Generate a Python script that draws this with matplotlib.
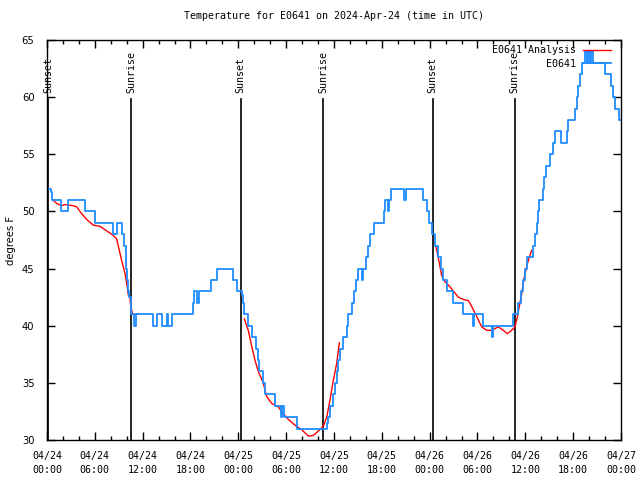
import pandas as pd
import matplotlib
matplotlib.use('Agg')
import matplotlib.pyplot as plt
import matplotlib.dates as mdates

plt.rcParams['font.family'] = 'DejaVu Sans Mono'
plt.rcParams['font.size'] = 7.2

start = pd.Timestamp('2024-04-24 00:00')

# observed temperature (hours since start, degrees F), drawn as steps
obs_hours = [0.15, 0.5, 0.66, 1.72, 2.67, 4.77, 5.98, 8.32, 8.78, 9.45, 9.66, 9.85, 9.97, 10.1,
             10.22, 10.35, 10.5, 10.6, 10.88, 11.16, 13.26, 13.8, 14.39, 15.05, 15.24, 15.64,
             18.28, 18.5, 18.88, 19.13, 20.53, 21.29, 23.37, 23.87, 24.42, 24.55, 24.71, 25.25,
             25.68, 26.22, 26.5, 26.63, 27.13, 27.35, 28.6, 29.32, 29.54, 29.73, 31.32, 35.09,
             35.25, 35.5, 35.91, 36.12, 36.37, 36.54, 36.75, 37.17, 37.59, 37.8, 38.22, 38.51,
             38.76, 39.05, 39.48, 39.68, 40.02, 40.3, 40.52, 41.02, 42.27, 42.46, 42.77, 42.96,
             43.21, 44.78, 45.03, 47.13, 47.63, 47.92, 48.33, 48.67, 49.08, 49.38, 49.64, 50.14,
             50.97, 52.22, 53.4, 53.56, 54.73, 55.78, 55.98, 58.49, 59.12, 59.42, 59.67, 59.96,
             60.25, 60.93, 61.22, 61.43, 61.59, 61.75, 62.26, 62.4, 62.59, 63.1, 63.47, 63.72,
             64.43, 65.22, 65.39, 66.23, 66.44, 66.65, 66.86, 67.15, 67.49, 67.7, 67.86, 68.05,
             68.24, 68.43, 70.0, 70.71, 70.96, 71.25, 71.79, 72.0]
obs_temps = [52, 51.7, 51, 50, 51, 50, 49, 48, 49, 48, 47, 46, 45, 44,
             43, 42.5, 41.7, 41, 40, 41, 40, 41, 40, 41, 40, 41,
             42, 43, 42, 43, 44, 45, 44, 43, 42.7, 42, 41, 40,
             39, 38, 37, 36, 35, 34, 33, 32, 33, 32, 31, 31.5,
             32, 33, 34, 35, 36, 37, 38, 39, 40, 41, 42, 43,
             44, 45, 44, 45, 46, 47, 48, 49, 50, 51, 50, 51,
             52, 51, 52, 51, 50, 49, 48, 47, 46, 45, 44, 43,
             42, 41, 40, 41, 40, 39, 40, 41, 42, 43, 44, 45,
             46, 47, 48, 49, 50, 51, 52, 53, 54, 55, 56, 57,
             56, 57, 58, 59, 60, 61, 62, 63, 64, 63, 64, 63,
             64, 63, 62, 61, 60, 59, 58, 58]

# analysis segments
ana1_hours = [0.66, 1.22, 1.84, 2.26, 3.3, 3.73, 4.35, 4.98, 5.81, 6.65, 7.49, 8.32, 8.74,
              9.07, 9.37, 9.78, 10.07, 10.2, 10.41, 10.5, 10.75, 11.45]
ana1_temps = [51.06, 50.7, 50.5, 50.6, 50.5, 50.4, 49.8, 49.3, 48.8, 48.7, 48.3, 47.9, 47.6,
              46.6, 45.7, 44.6, 43.4, 42.7, 42.5, 41.7, 41.0, 41.0]
ana2_hours = [24.75, 25.25, 25.68, 26.09, 26.5, 27.13, 27.56, 28.19, 29.01, 29.64, 30.27,
              31.11, 31.95, 32.78, 33.4, 33.91, 34.66, 35.09, 35.5, 35.91, 36.34, 36.67]
ana2_temps = [40.6, 39.6, 38.2, 37.0, 36.0, 35.0, 33.8, 33.2, 32.9, 32.3, 31.8,
              31.3, 30.9, 30.35, 30.4, 30.7, 31.2, 32.0, 33.5, 35.2, 36.7, 38.5]
ana3_hours = [48.8, 49.21, 49.51, 49.92, 50.55, 51.59, 52.22, 52.85, 53.27, 53.9, 54.53,
              55.16, 55.78, 56.61, 57.24, 57.74, 58.29, 58.71, 59.0, 59.25, 59.55, 59.83,
              60.17, 60.5, 60.8]
ana3_temps = [46.9, 45.5, 44.4, 43.85, 43.4, 42.5, 42.3, 42.2, 41.7, 40.8, 39.9,
              39.6, 39.6, 39.9, 39.6, 39.3, 39.6, 39.9, 40.8, 41.7, 42.8, 44.1,
              45.2, 46.0, 46.6]

sun_hours = [0.16, 10.57, 24.3, 34.66, 48.38, 58.67]
sun_labels = ['Sunset', 'Sunrise', 'Sunset', 'Sunrise', 'Sunset', 'Sunrise']
sun_top = 59.8

tick_hours = list(range(0, 73, 6))


def to_time(hours):
    return start + pd.to_timedelta(hours, unit='h')


fig = plt.figure(figsize=(6.4, 4.8), dpi=100)
ax = fig.add_axes([0.0734, 0.0833, 0.8969, 0.8334])

blue = '#1e8cff'
red = '#ff0000'

for h, lab in zip(sun_hours, sun_labels):
    t = to_time(h)
    ax.plot([t, t], [30, sun_top], color='black', lw=1.2)
    ax.text(t, sun_top + 0.6, lab, rotation=90, ha='center', va='bottom')

first = True
for hrs, tmp in [(ana1_hours, ana1_temps), (ana2_hours, ana2_temps), (ana3_hours, ana3_temps)]:
    ax.plot(to_time(hrs), tmp, color=red, lw=1.0,
            label='E0641 Analysis' if first else None)
    first = False
ax.plot(to_time(obs_hours), obs_temps, color=blue, lw=1.3, drawstyle='steps-post', label='E0641')

ax.set_xlim(start, to_time(72))
ax.set_ylim(30, 65)
ax.set_yticks(range(30, 66, 5))
ticks = to_time(tick_hours)
ax.set_xticks(ticks)
ax.set_xticklabels([t.strftime('%m/%d\n%H:%M') for t in ticks], linespacing=1.45)
ax.xaxis.set_minor_locator(mdates.HourLocator(byhour=range(0, 24, 2)))
ax.tick_params(which='both', direction='in', top=True, right=True, width=1)
ax.tick_params(which='major', length=6)
ax.tick_params(which='minor', length=3)
ax.tick_params(axis='x', pad=8)
ax.tick_params(axis='y', pad=9)
for lbl in ax.get_yticklabels():
    lbl.set_family('DejaVu Sans')
for sp in ax.spines.values():
    sp.set_linewidth(1.0)

ax.set_ylabel('degrees F', family='DejaVu Sans', labelpad=4)
ax.set_title('Temperature for E0641 on 2024-Apr-24 (time in UTC)', fontsize=7.2, pad=15)
ax.legend(loc='upper right', bbox_to_anchor=(0.982, 0.987), frameon=False, markerfirst=False,
          handlelength=2.8, handletextpad=0.7, borderaxespad=0, labelspacing=0.35, borderpad=0)

fig.savefig('out.png', dpi=100)
